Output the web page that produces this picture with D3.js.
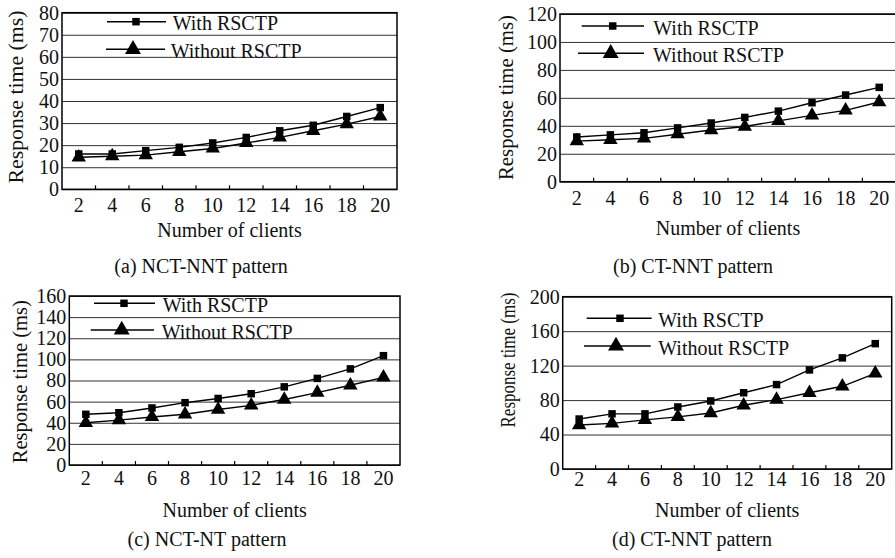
<!DOCTYPE html>
<html>
<head>
<meta charset="utf-8">
<script src="https://cdn.jsdelivr.net/npm/d3@7"></script>
<style>
  body { margin: 0; background: #fff; }
</style>
</head>
<body>
<div id="chart"></div>
<script>
// data
var clients = [2, 4, 6, 8, 10, 12, 14, 16, 18, 20];
var seriesNames = ["With RSCTP", "Without RSCTP"];

var withA = [16, 16, 17.5, 19, 21, 23.5, 26.5, 29, 33, 37];
var withoutA = [14.5, 15, 15.5, 17, 18.5, 21, 23.5, 26.5, 29.5, 33];
var withB = [32, 33.5, 35, 38.5, 42, 46, 50.5, 56.5, 62, 67.5];
var withoutB = [29, 30, 31, 34, 37, 39.5, 43.5, 47.5, 51, 57];
var withC = [48, 49.5, 54, 59, 63, 67.5, 74, 82, 91, 103.5];
var withoutC = [40, 42.5, 45.5, 48, 52.5, 56.5, 62, 68.5, 75.5, 83];
var withD = [58, 64, 64, 72, 79, 88.5, 98, 115, 129, 145.5];
var withoutD = [51, 53, 57, 60.5, 65, 74, 80.5, 88.5, 96, 111];

var yTicksA = [0, 10, 20, 30, 40, 50, 60, 70, 80];
var yTicksB = [0, 20, 40, 60, 80, 100, 120];
var yTicksC = [0, 20, 40, 60, 80, 100, 120, 140, 160];
var yTicksD = [0, 40, 80, 120, 160, 200];

var captions = ["(a) NCT-NNT pattern", "(b) CT-NNT pattern", "(c) NCT-NT pattern", "(d) CT-NNT pattern"];

var FONT = "'Liberation Serif', 'Times New Roman', Times, serif";

// layout of each panel (pixels)
var panels = [
  {w: withA, wo: withoutA, ticks: yTicksA, cap: captions[0],
   l: 62, r: 397, t: 12.7, b: 189.3, tickY: 212, titleY: 237, capY: 273, capX: 201,
   yt: {x: 16, y: 97, len: 173},
   leg: [{x1: 107, x2: 166, m: 136, tx: 172.7, y: 21.7}, {x1: 106, x2: 165, m: 133, tx: 170.7, y: 49.3}]},
  {w: withB, wo: withoutB, ticks: yTicksB, cap: captions[1],
   l: 560, r: 896, t: 14, b: 181.7, tickY: 205, titleY: 235, capY: 273, capX: 693,
   yt: {x: 506, y: 97.5, len: 165},
   leg: [{x1: 581.7, x2: 644, m: 612.7, tx: 653.3, y: 26}, {x1: 578, x2: 644, m: 610.7, tx: 653, y: 53.3}]},
  {w: withC, wo: withoutC, ticks: yTicksC, cap: captions[2],
   l: 69.3, r: 400, t: 296, b: 465, tickY: 485, titleY: 517, capY: 546, capX: 207,
   yt: {x: 19.5, y: 381.7, len: 163},
   leg: [{x1: 94, x2: 155, m: 124, tx: 162.7, y: 303.3}, {x1: 90.7, x2: 154, m: 121.7, tx: 161.7, y: 330}]},
  {w: withD, wo: withoutD, ticks: yTicksD, cap: captions[3],
   l: 562.7, r: 891.7, t: 296.7, b: 469, tickY: 486, titleY: 517, capY: 546, capX: 692,
   yt: {x: 507.5, y: 360, len: 135},
   leg: [{x1: 586.7, x2: 651.7, m: 620, tx: 658.3, y: 318.3}, {x1: 584, x2: 650.7, m: 616, tx: 658.3, y: 346}]}
];

var svg = d3.select("#chart").append("svg")
  .attr("width", 895)
  .attr("height", 558);

var square = d3.symbol().type(d3.symbolSquare).size(56);
var triangle = d3.symbol().type(d3.symbolTriangle).size(90);
var bigTriangle = d3.symbol().type(d3.symbolTriangle).size(110);

function serif(sel) {
  return sel.style("font-family", FONT).style("font-size", "20px").attr("fill", "#111");
}

panels.forEach(function(p) {
  var x = d3.scaleBand().domain(clients).range([p.l, p.r]).padding(0);
  var y = d3.scaleLinear().domain([0, d3.max(p.ticks)]).range([p.b, p.t]);
  var g = svg.append("g");

  // gridlines + y labels
  var yAxis = d3.axisLeft(y).tickValues(p.ticks).tickSize(-(p.r - p.l)).tickPadding(3);
  var ya = g.append("g").attr("transform", "translate(" + p.l + ",0)").call(yAxis);
  ya.select(".domain").remove();
  ya.selectAll("line").attr("stroke", "#333").attr("stroke-width", 1);
  serif(ya.selectAll("text"));

  // frame
  g.append("rect")
    .attr("x", p.l).attr("y", y(d3.max(p.ticks)))
    .attr("width", p.r - p.l).attr("height", p.b - y(d3.max(p.ticks)))
    .attr("fill", "none").attr("stroke", "#000").attr("stroke-width", 1.5);

  // x tick marks at band edges, pointing up
  g.selectAll(".xt").data(clients.slice(1)).enter().append("line")
    .attr("x1", function(d) { return x(d); }).attr("x2", function(d) { return x(d); })
    .attr("y1", p.b).attr("y2", p.b - 4)
    .attr("stroke", "#000").attr("stroke-width", 1.2);

  // x labels
  var xAxis = d3.axisBottom(x).tickSize(0).tickPadding(0);
  var xa = g.append("g").attr("transform", "translate(0," + p.b + ")").call(xAxis);
  xa.select(".domain").remove();
  serif(xa.selectAll("text").attr("dy", null).attr("y", p.tickY - p.b));

  // axis titles
  serif(g.append("text").attr("x", (p.l + p.r) / 2).attr("y", p.titleY)
    .attr("text-anchor", "middle").text("Number of clients"));
  serif(g.append("text")
    .attr("transform", "translate(" + (p.yt.x + 7) + "," + p.yt.y + ") rotate(-90)")
    .attr("text-anchor", "middle")
    .attr("textLength", p.yt.len).attr("lengthAdjust", "spacingAndGlyphs")
    .text("Response time (ms)"));

  // caption
  serif(g.append("text").attr("x", p.capX).attr("y", p.capY)
    .attr("text-anchor", "middle").text(p.cap));

  // lines and markers
  var line = d3.line()
    .x(function(d, i) { return x(clients[i]) + x.bandwidth() / 2; })
    .y(function(d) { return y(d); });

  [p.w, p.wo].forEach(function(vals, k) {
    g.append("path").datum(vals).attr("d", line)
      .attr("fill", "none").attr("stroke", "#000").attr("stroke-width", 1.4);
    g.selectAll(".m" + k).data(vals).enter().append("path")
      .attr("transform", function(d, i) {
        return "translate(" + (x(clients[i]) + x.bandwidth() / 2) + "," + y(d) + ")";
      })
      .attr("d", k == 0 ? square : triangle)
      .attr("fill", "#000");
  });

  // legend
  p.leg.forEach(function(row, k) {
    g.append("line").attr("x1", row.x1).attr("x2", row.x2).attr("y1", row.y).attr("y2", row.y)
      .attr("stroke", "#000").attr("stroke-width", 1.6);
    g.append("path").attr("transform", "translate(" + row.m + "," + row.y + ")")
      .attr("d", k == 0 ? square : bigTriangle).attr("fill", "#000");
    serif(g.append("text").attr("x", row.tx).attr("y", row.y + 8.5).text(seriesNames[k]));
  });
});
</script>
</body>
</html>
